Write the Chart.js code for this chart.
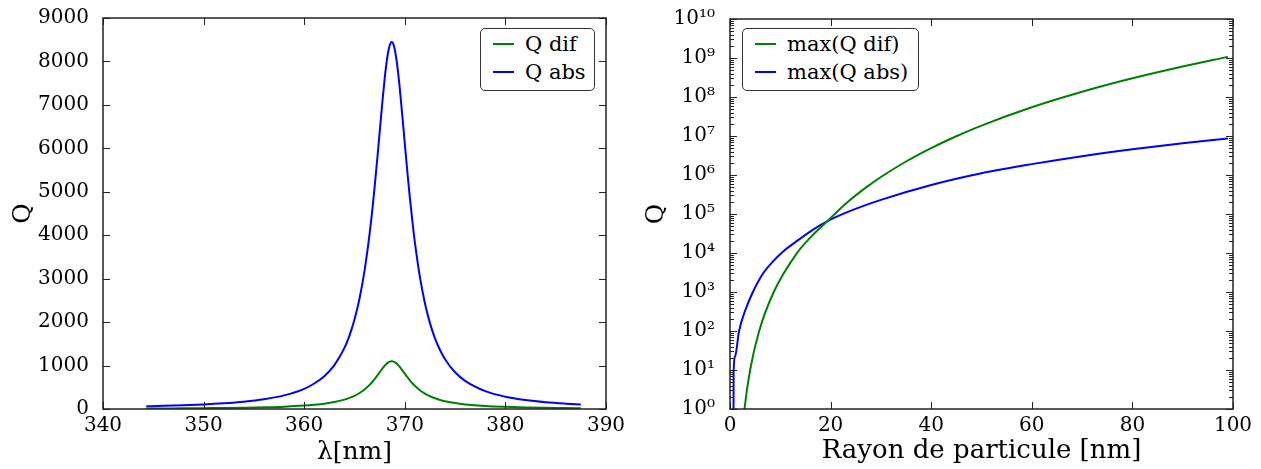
<!DOCTYPE html>
<html>
<head>
<meta charset="utf-8">
<script src="https://cdn.jsdelivr.net/npm/chart.js@4/dist/chart.umd.min.js"></script>
<style>
  body { margin: 0; background: #fff; }
  #wrap { position: relative; width: 1261px; height: 469px; overflow: hidden; }
  canvas { position: absolute; top: 0; }
  .legend {
    position: absolute; box-sizing: border-box; height: 63px;
    border: 1.5px solid #333; border-radius: 5px; background: #fff;
    padding: 0 0 0 12px; font-family: 'DejaVu Serif', serif; font-size: 21px; color: #000;
  }
  .legend .row { display: flex; align-items: center; height: 28px; }
  .legend .row:first-child { margin-top: 1px; }
  .legend .swatch { width: 21px; height: 2px; margin-right: 11px; }
</style>
</head>
<body>
<div id="wrap">
  <canvas id="spectre" width="630" height="469" style="left:0"></canvas>
  <canvas id="rayon" width="631" height="469" style="left:630px"></canvas>
</div>
<script>
// left panel: spectrum around the resonance
const lambdaNm = [344.3, 346, 348, 350, 352, 354, 356, 358, 360, 361, 362, 363, 364, 364.5, 365, 365.5, 366, 366.5, 366.8,
  367, 367.3, 367.5, 367.8, 368, 368.1, 368.3, 368.5, 368.7, 368.9, 369.1, 369.3, 369.5, 369.8, 370, 370.3, 370.5, 370.8,
  371, 371.5, 372, 372.5, 373, 373.5, 374, 375, 376, 378, 380, 382, 384, 386, 387.5];
const qDif = [11, 13, 15, 19, 23, 30, 39, 53, 78, 97, 122, 160, 216, 255, 304, 368, 450, 556, 633,
  690, 782, 845, 939, 996, 1021, 1062, 1089, 1099, 1089, 1062, 1021, 969, 877, 814, 720, 661, 581,
  533, 432, 353, 293, 246, 209, 180, 136, 106, 69, 49, 36, 27, 22, 18];
const qAbs = [62, 72, 86, 105, 132, 169, 225, 313, 464, 587, 755, 1010, 1406, 1690, 2061, 2544, 3185, 4029, 4646,
  5106, 5850, 6370, 7139, 7606, 7812, 8154, 8374, 8450, 8374, 8154, 7812, 7380, 6631, 6110, 5346, 4870, 4225,
  3841, 3042, 2436, 1977, 1627, 1358, 1147, 845, 646, 410, 282, 206, 156, 123, 104];
const lambdaTicks = [340, 350, 360, 370, 380, 390];

// right panel: maxima vs particle radius
const rayonDif = [2.6, 2.88, 4, 5.8, 8.7, 13.2, 16, 19.3, 23.5, 27, 30, 35, 40, 45, 50, 60, 70, 80, 90, 99];
const maxQDif = [0.4, 1, 10, 100, 1000, 9500, 25100, 64600, 208000, 474000, 887000, 2220000, 4900000, 9860000,
  18500000, 54400000, 136000000, 301000000, 605000000, 1070000000];
const rayonAbs = [0.66, 0.72, 1, 1.8, 3, 4.55, 6.5, 8.5, 10.4, 13, 16, 19.3, 23.8, 30, 40, 50, 60, 70, 80, 90, 99];
const maxQAbs = [0.001, 9, 22, 100, 330, 1000, 2900, 6000, 10500, 19000, 36000, 64600, 118000, 230000, 555000,
  1110000, 1900000, 3040000, 4560000, 6500000, 8660000];
const rayonTicks = [0, 20, 40, 60, 80, 100];
const decades = [0, 1, 2, 3, 4, 5, 6, 7, 8, 9, 10];

const GREEN = '#008000';
const BLUE = '#0000ff';
const SUP = {'0': '⁰', '1': '¹', '2': '²', '3': '³', '4': '⁴', '5': '⁵', '6': '⁶', '7': '⁷', '8': '⁸', '9': '⁹'};

Chart.defaults.font.family = "'DejaVu Serif', serif";
Chart.defaults.font.size = 20;
Chart.defaults.color = '#000';

const pts = (xs, ys) => xs.map((x, i) => ({x: x, y: ys[i]}));

// matplotlib-like box with inward ticks
const frame = {
  id: 'frame',
  afterDraw(chart) {
    const {ctx, chartArea: a, scales} = chart;
    const xs = scales.x, ys = scales.y;
    ctx.save();
    ctx.strokeStyle = '#222';
    ctx.lineWidth = 1;
    ctx.beginPath();
    xs.ticks.forEach(t => {
      const px = Math.round(xs.getPixelForValue(t.value)) + 0.5;
      ctx.moveTo(px, a.bottom); ctx.lineTo(px, a.bottom - 7);
      ctx.moveTo(px, a.top); ctx.lineTo(px, a.top + 7);
    });
    ys.ticks.forEach(t => {
      const py = Math.round(ys.getPixelForValue(t.value)) + 0.5;
      ctx.moveTo(a.left, py); ctx.lineTo(a.left + 7, py);
      ctx.moveTo(a.right, py); ctx.lineTo(a.right - 7, py);
    });
    if (ys.type === 'logarithmic') {
      decades.slice(0, -1).forEach(k => {
        for (let m = 2; m <= 9; m++) {
          const py = Math.round(ys.getPixelForValue(m * Math.pow(10, k))) + 0.5;
          ctx.moveTo(a.left, py); ctx.lineTo(a.left + 4, py);
          ctx.moveTo(a.right, py); ctx.lineTo(a.right - 4, py);
        }
      });
    }
    ctx.stroke();
    ctx.lineWidth = 1.5;
    ctx.strokeRect(a.left, a.top, a.right - a.left, a.bottom - a.top);
    ctx.restore();
  }
};

function makeChart(id, datasets, xOpts, yOpts, yWidth, padRight, yTitlePad) {
  return new Chart(document.getElementById(id), {
    type: 'line',
    data: {datasets: datasets},
    options: {
      responsive: false,
      animation: false,
      layout: {padding: {top: 17, right: padRight, left: 0, bottom: 0}},
      plugins: {legend: {display: false}, tooltip: {enabled: false}},
      elements: {point: {radius: 0}, line: {borderWidth: 2, cubicInterpolationMode: 'monotone'}},
      scales: {
        x: Object.assign({
          type: 'linear',
          grid: {display: false},
          border: {display: false},
          ticks: {padding: -3, maxRotation: 0, font: {size: 20}},
          afterFit(s) { s.height = 60; }
        }, xOpts),
        y: Object.assign({
          grid: {display: false},
          border: {display: false},
          title: {display: true, text: 'Q', font: {size: 25}, padding: {top: yTitlePad, bottom: 0}},
          afterFit(s) { s.width = yWidth; }
        }, yOpts)
      }
    },
    plugins: [frame]
  });
}

const spectre = makeChart('spectre', [
    {label: 'Q dif', data: pts(lambdaNm, qDif), borderColor: GREEN},
    {label: 'Q abs', data: pts(lambdaNm, qAbs), borderColor: BLUE}
  ],
  {min: 340, max: 390, title: {display: true, text: 'λ[nm]', font: {size: 25}, padding: {top: 0, bottom: 2}},
   afterBuildTicks(s) { s.ticks = lambdaTicks.map(v => ({value: v})); }},
  {type: 'linear', min: 0, max: 9000,
   ticks: {stepSize: 1000, padding: 6, font: {size: 20}, callback: v => String(v)}},
  103, 24, 8);

const rayon = makeChart('rayon', [
    {label: 'max(Q dif)', data: pts(rayonDif, maxQDif), borderColor: GREEN},
    {label: 'max(Q abs)', data: pts(rayonAbs, maxQAbs), borderColor: BLUE}
  ],
  {min: 0, max: 100, title: {display: true, text: 'Rayon de particule [nm]', font: {size: 26}, padding: {top: 0, bottom: 2}},
   afterBuildTicks(s) { s.ticks = rayonTicks.map(v => ({value: v})); }},
  {type: 'logarithmic', min: 1, max: 1e10,
   afterBuildTicks(s) { s.ticks = decades.map(k => ({value: Math.pow(10, k)})); },
   ticks: {padding: 7, font: {size: 20}, callback(v) {
     const k = Math.round(Math.log10(v));
     return '10' + String(k).split('').map(c => SUP[c]).join('');
   }}},
  100, 28, 11);

function addLegend(chart, left, width) {
  const box = document.createElement('div');
  box.className = 'legend';
  box.style.left = left + 'px';
  box.style.top = '28px';
  box.style.width = width + 'px';
  chart.data.datasets.forEach(ds => {
    const row = document.createElement('div');
    row.className = 'row';
    const sw = document.createElement('span');
    sw.className = 'swatch';
    sw.style.background = ds.borderColor;
    const tx = document.createElement('span');
    tx.textContent = ds.label;
    row.appendChild(sw);
    row.appendChild(tx);
    box.appendChild(row);
  });
  document.getElementById('wrap').appendChild(box);
}
addLegend(spectre, 480, 115);
addLegend(rayon, 742, 177);
</script>
</body>
</html>
